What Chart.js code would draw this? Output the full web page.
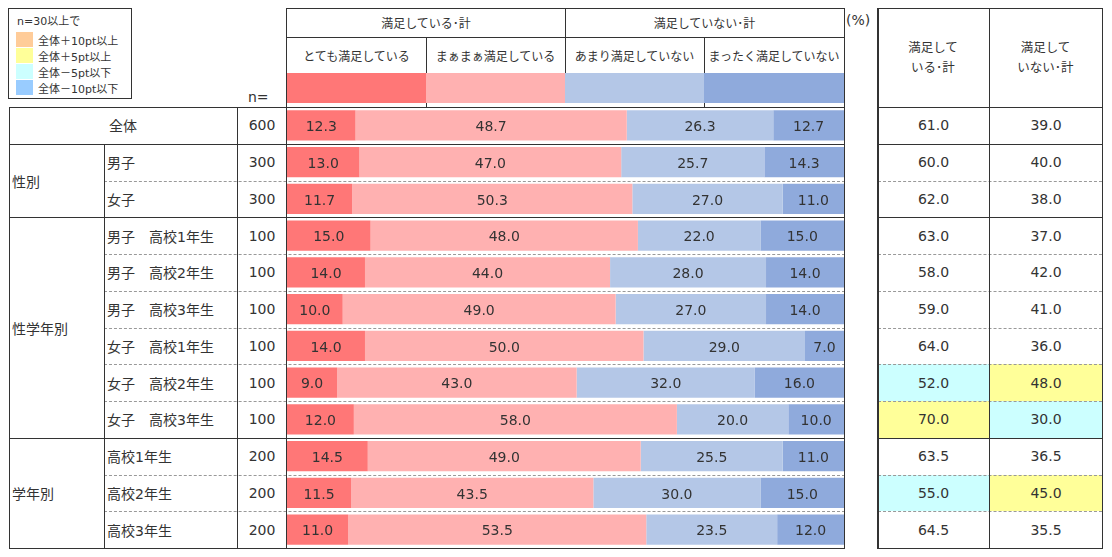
<!DOCTYPE html>
<html>
<head>
<meta charset="utf-8">
<script src="https://cdn.jsdelivr.net/npm/chart.js@4.4.0/dist/chart.umd.min.js"></script>
<style>
body { margin: 0; background: #fff; font-family: "DejaVu Sans", "Noto Sans CJK JP", sans-serif; color: #333; }
#page { position: relative; width: 1112px; height: 557px; overflow: hidden; }
.cell { position: absolute; display: flex; align-items: center; box-sizing: border-box; white-space: nowrap; font-size: 14px; }
.hl { position: absolute; height: 0; border-top: 1px solid #333; }
.hd { position: absolute; height: 0; border-top: 1px dashed #999; }
.vl { position: absolute; width: 0; border-left: 1px solid #333; }
</style>
</head>
<body>
<div id="page">
  <canvas id="barChart" width="557" height="441" style="position:absolute;left:287px;top:107px;"></canvas>
</div>
<script>
// rows
const categories = ['全体', '男子', '女子',
  '男子　高校1年生', '男子　高校2年生', '男子　高校3年生',
  '女子　高校1年生', '女子　高校2年生', '女子　高校3年生',
  '高校1年生', '高校2年生', '高校3年生'];
const sampleSizes = [600, 300, 300, 100, 100, 100, 100, 100, 100, 200, 200, 200];

// groups (first row, last row)
const groupLabels = ['性別', '性学年別', '学年別'];
const groupFirst = [1, 3, 9];
const groupLast = [2, 8, 11];

// series (%)
const seriesLabels = ['とても満足している', 'まぁまぁ満足している', 'あまり満足していない', 'まったく満足していない'];
const headerGroups = ['満足している･計', '満足していない･計'];
const veryData = [12.3, 13.0, 11.7, 15.0, 14.0, 10.0, 14.0, 9.0, 12.0, 14.5, 11.5, 11.0];
const fairlyData = [48.7, 47.0, 50.3, 48.0, 44.0, 49.0, 50.0, 43.0, 58.0, 49.0, 43.5, 53.5];
const notVeryData = [26.3, 25.7, 27.0, 22.0, 28.0, 27.0, 29.0, 32.0, 20.0, 25.5, 30.0, 23.5];
const notAtAllData = [12.7, 14.3, 11.0, 15.0, 14.0, 14.0, 7.0, 16.0, 10.0, 11.0, 15.0, 12.0];

// totals
const totalHeaders = ['満足して\nいる･計', '満足して\nいない･計'];
const satisfiedTotal = [61.0, 60.0, 62.0, 63.0, 58.0, 59.0, 64.0, 52.0, 70.0, 63.5, 55.0, 64.5];
const unsatisfiedTotal = [39.0, 40.0, 38.0, 37.0, 42.0, 41.0, 36.0, 48.0, 30.0, 36.5, 45.0, 35.5];

// legend
const legendTitle = 'n=30以上で';
const legendLabels = ['全体＋10pt以上', '全体＋5pt以上', '全体－5pt以下', '全体－10pt以下'];

const seriesColors = ['#ff7777', '#ffb1b1', '#b4c7e7', '#8faadc'];
const legendColors = ['#ffcc99', '#ffff99', '#ccffff', '#99ccff'];

var page = document.getElementById('page');
var rowTop = 107, rowH = 441 / 12;

function el(cls, x, y, w, h, text, css) {
    var d = document.createElement('div');
    d.className = cls;
    d.style.left = x + 'px';
    d.style.top = y + 'px';
    if (w != null) d.style.width = w + 'px';
    if (h != null) d.style.height = h + 'px';
    if (text != null) d.textContent = text;
    if (css) Object.assign(d.style, css);
    page.appendChild(d);
    return d;
}
function hline(x1, x2, y, dashed) { el(dashed ? 'hd' : 'hl', x1, y, x2 - x1); }
function vline(x, y1, y2, wide) { el('vl', x, y1, null, y2 - y1, null, wide ? { borderLeftWidth: '2px' } : null); }

// legend box
el('cell', 8, 8, 124, 91, null, { border: '1px solid #333' });
el('cell', 17, 12, 110, 16, legendTitle, { fontSize: '11px' });
legendLabels.forEach(function (t, i) {
    el('cell', 16, 32 + i * 16, 17, 15, null, { background: legendColors[i] });
    el('cell', 38, 32 + i * 16, 95, 15, t, { fontSize: '11px' });
});
el('cell', 248, 88, 30, 18, 'n=', {});
el('cell', 846, 10, 30, 20, '(%)', {});

// bar header
var xs = [287, 426, 565, 704, 844];
el('cell', 287, 8, 278, 29, headerGroups[0], { justifyContent: 'center', fontSize: '12px' });
el('cell', 565, 8, 279, 29, headerGroups[1], { justifyContent: 'center', fontSize: '12px' });
seriesLabels.forEach(function (t, i) {
    el('cell', xs[i], 37, xs[i + 1] - xs[i], 36, t, { justifyContent: 'center', fontSize: '12px' });
});
hline(286, 845, 8); hline(286, 845, 37); hline(286, 845, 73);
vline(565, 8, 73); vline(426, 37, 107); vline(704, 37, 107);
seriesLabels.forEach(function (t, i) {
    el('cell', xs[i], 73, xs[i + 1] - xs[i], 30, null, { background: seriesColors[i] });
});

// left table text
el('cell', 9, rowTop, 228, rowH, categories[0], { justifyContent: 'center' });
for (var i = 1; i < categories.length; i++) {
    el('cell', 107, rowTop + i * rowH, 130, rowH, categories[i], {});
}
groupLabels.forEach(function (g, k) {
    var y1 = rowTop + groupFirst[k] * rowH, y2 = rowTop + (groupLast[k] + 1) * rowH;
    el('cell', 12, y1, 90, y2 - y1, g, {});
});
sampleSizes.forEach(function (n, i) {
    el('cell', 237, rowTop + i * rowH, 50, rowH, String(n), { justifyContent: 'center' });
});

// right table
el('cell', 877, 8, 112, 99, totalHeaders[0], { justifyContent: 'center', textAlign: 'center', whiteSpace: 'pre', fontSize: '12.5px', lineHeight: '20px' });
el('cell', 989, 8, 113, 99, totalHeaders[1], { justifyContent: 'center', textAlign: 'center', whiteSpace: 'pre', fontSize: '12.5px', lineHeight: '20px' });

function highlight(diff) {
    if (diff >= 10) return legendColors[0];
    if (diff >= 5) return legendColors[1];
    if (diff <= -10) return legendColors[3];
    if (diff <= -5) return legendColors[2];
    return null;
}
[satisfiedTotal, unsatisfiedTotal].forEach(function (arr, c) {
    var x = c === 0 ? 878 : 990, w = c === 0 ? 111 : 112;
    arr.forEach(function (v, i) {
        var bg = i > 0 && sampleSizes[i] >= 30 ? highlight(v - arr[0]) : null;
        el('cell', x, rowTop + i * rowH, w, rowH, v.toFixed(1), { justifyContent: 'center', background: bg || 'transparent' });
    });
});

// row lines
var groupEnds = [0].concat(groupLast);
for (var r = 0; r <= categories.length; r++) {
    var y = Math.round(rowTop + r * rowH) - 0.5;
    var solid = r === 0 || groupEnds.indexOf(r - 1) >= 0;
    if (solid) {
        hline(9, 845, y); hline(877, 1103, y);
    } else {
        hline(104, 845, y, true); hline(878, 1102, y, true);
    }
}
vline(9, 107, 548); vline(104, 144, 548); vline(237, 107, 548);
vline(286, 8, 548); vline(844, 8, 548);
vline(877, 8, 549, true); vline(989, 8, 548); vline(1102, 8, 549);
hline(877, 1103, 8);

// bar chart
var barLabels = {
    id: 'barLabels',
    afterDatasetsDraw: function (chart) {
        var ctx = chart.ctx;
        ctx.save();
        ctx.font = '14px "DejaVu Sans"';
        ctx.fillStyle = '#333';
        ctx.textAlign = 'center';
        ctx.textBaseline = 'middle';
        chart.data.datasets.forEach(function (ds, i) {
            chart.getDatasetMeta(i).data.forEach(function (bar, j) {
                ctx.fillText(ds.data[j].toFixed(1), (bar.x + bar.base) / 2, bar.y + 2);
            });
        });
        ctx.restore();
    }
};

var seriesValues = [veryData, fairlyData, notVeryData, notAtAllData];
new Chart(document.getElementById('barChart'), {
    type: 'bar',
    data: {
        labels: categories,
        datasets: seriesLabels.map(function (name, i) {
            return {
                label: name,
                data: seriesValues[i],
                backgroundColor: seriesColors[i],
                borderWidth: 0,
                barPercentage: 0.82,
                categoryPercentage: 1
            };
        })
    },
    options: {
        indexAxis: 'y',
        responsive: false,
        animation: false,
        layout: { padding: 0 },
        plugins: { legend: { display: false }, tooltip: { enabled: false } },
        scales: {
            x: { stacked: true, min: 0, max: 100, display: false },
            y: { stacked: true, display: false }
        }
    },
    plugins: [barLabels]
});
</script>
</body>
</html>
